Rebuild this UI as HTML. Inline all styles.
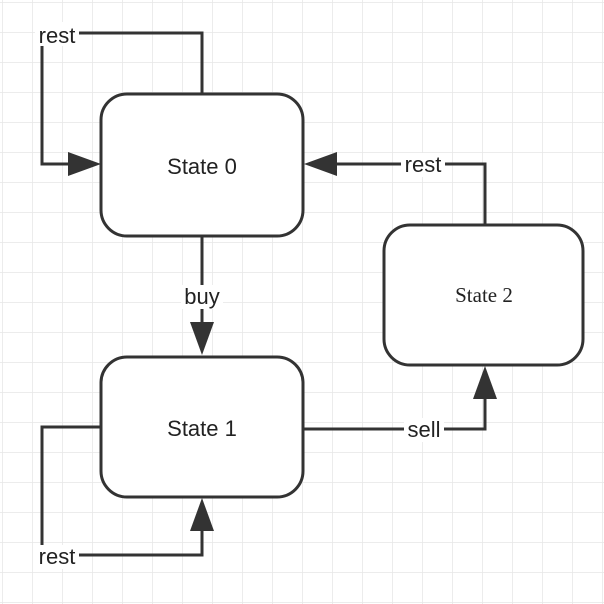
<!DOCTYPE html>
<html><head><style>
html,body{margin:0;padding:0;background:#fff}
svg{display:block}
</style></head><body>
<svg width="604" height="604" xmlns="http://www.w3.org/2000/svg">
<defs>
<pattern id="g" width="30" height="30" patternUnits="userSpaceOnUse" x="2" y="2">
<path d="M0 0H30M0 0V30" stroke="#e6e6e6" stroke-width="1.5" fill="none"/>
</pattern>
</defs>
<rect width="604" height="604" fill="url(#g)"/>
<g stroke="#333" stroke-width="3" fill="none">
<polyline points="202,94 202,33 42,33 42,164 80,164"/>
<polyline points="202,236 202,335"/>
<polyline points="101,427 42,427 42,555 202,555 202,520"/>
<polyline points="303,429 485,429 485,388"/>
<polyline points="485,224 485,164 326,164"/>
</g>
<g fill="#333">
<polygon points="101,164 68,152 68,176"/>
<polygon points="202,355 190,322 214,322"/>
<polygon points="202,498 190,531 214,531"/>
<polygon points="485,366 473,399 497,399"/>
<polygon points="304,164 337,152 337,176"/>
</g>
<g stroke="#333" stroke-width="3" fill="#fff">
<rect x="101" y="94" width="202" height="142" rx="26"/>
<rect x="101" y="357" width="202" height="140" rx="26"/>
<rect x="384" y="225" width="199" height="140" rx="26"/>
</g>
<g font-family="Liberation Sans, sans-serif" font-size="22" fill="#222" text-anchor="middle">
<text x="202" y="174">State 0</text>
<text x="202" y="436">State 1</text>
<text x="484" y="302" font-family="Liberation Serif, serif" font-size="21">State 2</text>
</g>
<g font-family="Liberation Sans, sans-serif" font-size="22" fill="#222" text-anchor="middle">
<rect x="35" y="22" width="44" height="24" fill="#fff"/><text x="57" y="43">rest</text>
<rect x="181" y="285" width="42" height="24" fill="#fff"/><text x="202" y="304">buy</text>
<rect x="35" y="545" width="44" height="24" fill="#fff"/><text x="57" y="564">rest</text>
<rect x="404" y="418" width="40" height="24" fill="#fff"/><text x="424" y="437">sell</text>
<rect x="401" y="153" width="44" height="24" fill="#fff"/><text x="423" y="172">rest</text>
</g>
</svg>
</body></html>
